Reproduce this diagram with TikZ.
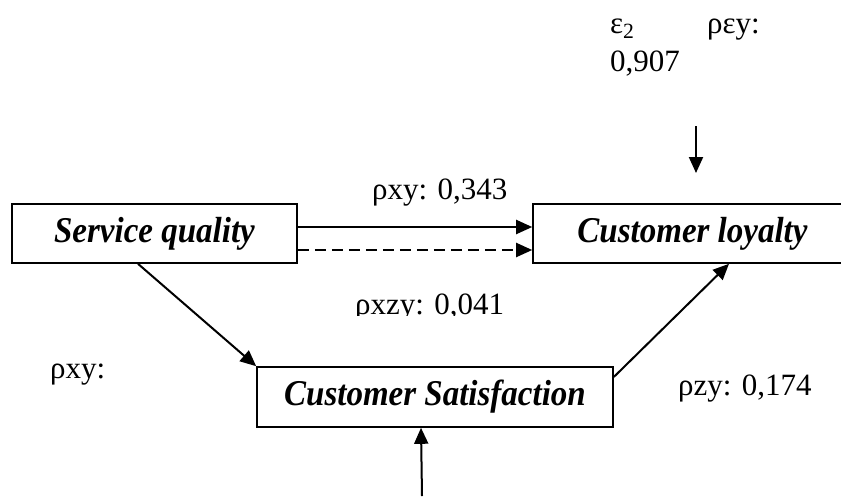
\documentclass[tikz,border=0pt]{standalone}
\usepackage{fontspec}
\setmainfont{Liberation Serif}
\usetikzlibrary{arrows.meta}
\newcommand\stretchtxt[1]{\scalebox{1}[1.1]{#1}}
\tikzset{
  box/.style={draw, line width=1.6pt, rectangle, inner sep=0pt, font=\fontsize{33}{39}\selectfont\bfseries\itshape},
  lbl/.style={inner sep=0pt, font=\fontsize{31}{37}\selectfont},
  arr/.style={line width=2pt, -{Triangle[length=16pt,width=14pt]}},
  dasharr/.style={arr, dash pattern=on 11pt off 6pt}
}
\begin{document}
\begin{tikzpicture}[x=1pt,y=-1pt]
\useasboundingbox (0,0) rectangle (841,496);
% boxes
\node[box, minimum width=285pt, minimum height=59pt] (sq) at (154.5,233.5) {\stretchtxt{Service quality}};
\node[box, minimum width=319pt, minimum height=59pt] (cl) at (692.5,233.5) {\stretchtxt{Customer loyalty}};
\node[box, minimum width=356pt, minimum height=60pt] (cs) at (435,397) {\stretchtxt{Customer Satisfaction}};
% free ends
\coordinate (e2top) at (696,126);
\coordinate (e2bot) at (696,173);
\coordinate (e1bot) at (422,496);
% connectors
\draw[arr] ([yshift=6.5pt]sq.east) -- ([yshift=6.5pt]cl.west);
\draw[dasharr] ([yshift=-16.5pt]sq.east) -- ([yshift=-16.5pt]cl.west);
\draw[arr] ([xshift=-16.5pt]sq.south) -- (cs.north west);
\draw[arr] ([yshift=20pt]cs.east) -- ([xshift=36.5pt]cl.south);
\draw[arr] (e1bot) -- ([xshift=-14pt]cs.south);
\draw[arr] (e2top) -- (e2bot);
% labels
\node[lbl, anchor=base west] (l1) at (372,199) {ρxy: 0,343};
\begin{scope}
\clip (0,0) rectangle (841,315);
\node[lbl, anchor=base west] (l2) at (355,314) {ρxzy: 0,041};
\end{scope}
\node[lbl, anchor=base west] (l3) at (50,378) {ρxy:};
\node[lbl, anchor=base west] (l4) at (678,395) {ρzy: 0,174};
\node[lbl, anchor=base west] (l5) at (610,33) {ε\textsubscript{2}};
\node[lbl, anchor=base west] (l6) at (707,33) {ρεy:};
\node[lbl, anchor=base west] (l7) at (610,71) {0,907};
\end{tikzpicture}
\end{document}
